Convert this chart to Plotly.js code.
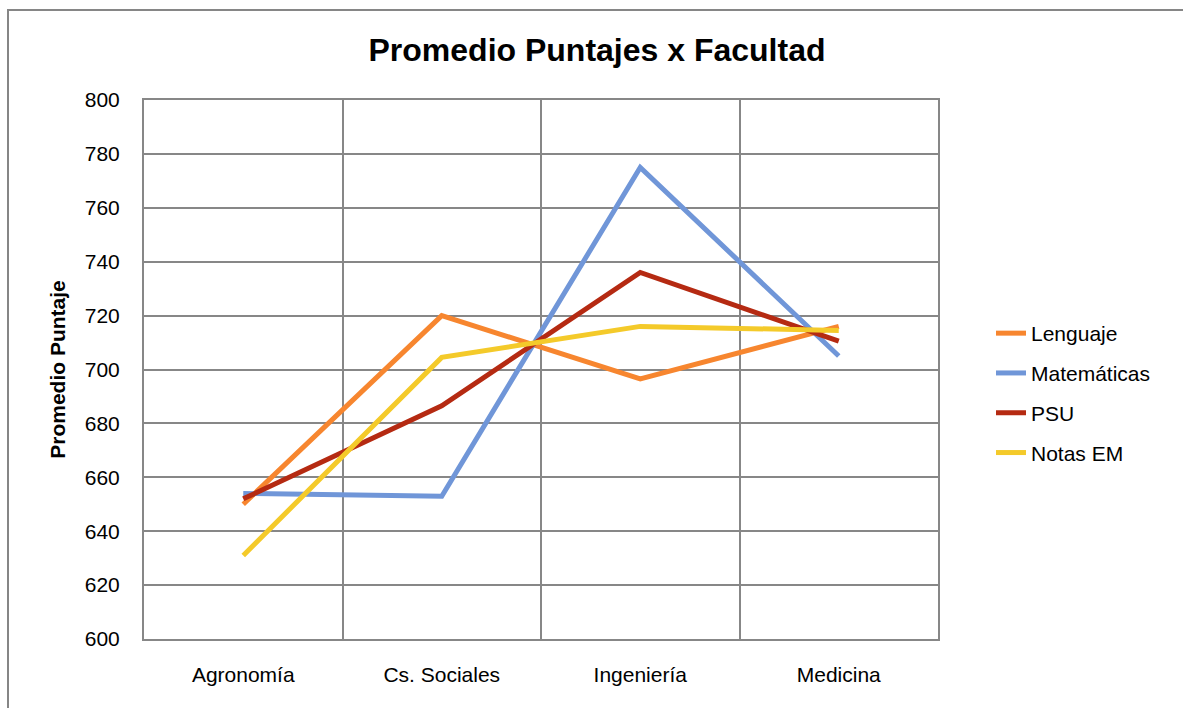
<!DOCTYPE html>
<html>
<head>
<meta charset="utf-8">
<script src="https://cdn.plot.ly/plotly-3.0.1.min.js"></script>
<style>
  html, body { margin: 0; padding: 0; background: #ffffff; }
  #chart { width: 1183px; height: 708px; }
</style>
</head>
<body>
<div id="chart"></div>
<script>
const categories = ["Agronomía", "Cs. Sociales", "Ingeniería", "Medicina"];
const lenguaje = [650, 720, 696.5, 716];
const matematicas = [654, 653, 775, 705];
const psu = [652, 686.5, 736, 710.5];
const notasEM = [631, 704.5, 716, 714.5];
const seriesNames = ["Lenguaje", "Matemáticas", "PSU", "Notas EM"];
const seriesColors = ["#F7862F", "#7096D8", "#B52A12", "#F4CA2A"];
const yTicks = [600, 620, 640, 660, 680, 700, 720, 740, 760, 780, 800];

const allSeries = [lenguaje, matematicas, psu, notasEM];
const traces = allSeries.map((vals, i) => ({
  type: "scatter",
  mode: "lines",
  x: categories,
  y: vals,
  name: seriesNames[i],
  legendgroup: "g" + i,
  line: { color: seriesColors[i], width: 5 },
  hoverinfo: "x+y+name"
}));

const gridColor = "#878787";
const font = "Liberation Sans, Arial, sans-serif";

const layout = {
  width: 1183,
  height: 708,
  paper_bgcolor: "#ffffff",
  plot_bgcolor: "#ffffff",
  margin: { l: 144, r: 245, t: 100, b: 69, pad: 0 },
  font: { family: font, size: 21, color: "#000000" },
  title: {
    text: "<b>Promedio Puntajes x Facultad</b>",
    font: { family: font, size: 32, color: "#000000" },
    x: 597 / 1183, xanchor: "center", xref: "container",
    y: 1 - 50 / 708, yanchor: "middle", yref: "container"
  },
  xaxis: {
    type: "category",
    range: [-0.5, 3.5],
    tickson: "boundaries",
    showgrid: true,
    gridcolor: gridColor,
    gridwidth: 2,
    showline: true,
    linecolor: gridColor,
    linewidth: 2,
    mirror: true,
    ticks: "",
    ticklabelstandoff: 16,
    tickfont: { family: font, size: 21, color: "#000000" },
    zeroline: false,
    fixedrange: true
  },
  yaxis: {
    range: [600, 800],
    tickvals: yTicks,
    ticktext: yTicks.map(String),
    showgrid: true,
    gridcolor: gridColor,
    gridwidth: 2,
    showline: true,
    linecolor: gridColor,
    linewidth: 2,
    mirror: true,
    ticks: "",
    ticklabelstandoff: 18,
    zeroline: false,
    automargin: false,
    tickfont: { family: font, size: 21, color: "#000000" },
    title: {
      text: "<b>Promedio Puntaje</b>",
      font: { family: font, size: 21, color: "#000000" },
      standoff: 13
    },
    fixedrange: true
  },
  legend: {
    x: (991 - 144) / 794, xanchor: "left",
    y: (639 - 393) / 539, yanchor: "middle",
    font: { family: font, size: 21, color: "#000000" },
    tracegroupgap: 9.5,
    bgcolor: "rgba(0,0,0,0)",
    borderwidth: 0
  },
  showlegend: true,
  shapes: [{
    type: "rect",
    xref: "paper", yref: "paper",
    x0: (8 - 144) / 794, x1: 1.5,
    y0: -0.3, y1: (639 - 10) / 539,
    line: { color: "#868686", width: 2 },
    fillcolor: "rgba(0,0,0,0)",
    layer: "below"
  }]
};

Plotly.newPlot("chart", traces, layout, { displayModeBar: false, staticPlot: true });
</script>
</body>
</html>
